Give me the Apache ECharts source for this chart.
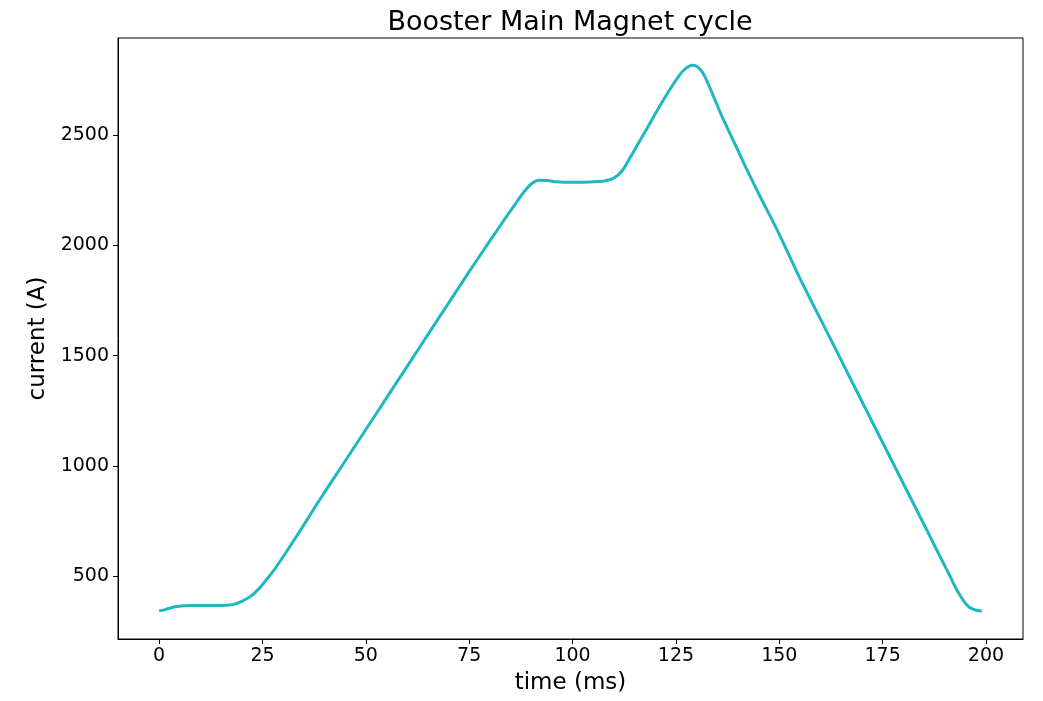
<!DOCTYPE html>
<html>
<head>
<meta charset="utf-8">
<title>Booster Main Magnet cycle</title>
<script src="https://cdn.jsdelivr.net/npm/echarts@6/dist/echarts.min.js"></script>
<style>
  html, body { margin: 0; padding: 0; background: #fff; }
  #chart { width: 1043px; height: 701px; }
</style>
</head>
<body>
<div id="chart"></div>
<script>
// Time within the magnet cycle (ms)
const timeMs = [
  0, 1, 2, 3, 4, 5, 6, 8, 10, 12, 14, 16, 18, 20, 22, 24, 26, 28, 30, 32,
  34, 36, 38, 40, 45, 50, 55, 60, 65, 70, 75, 80, 84, 86, 88, 90, 92, 94, 96, 98,
  100, 102, 104, 106, 108, 110, 112, 114, 116, 118, 120, 122, 124, 126, 127, 128, 129, 130, 131, 132,
  134, 136, 138, 140, 142, 145, 150, 155, 160, 165, 170, 175, 180, 185, 186, 188, 189, 190, 191, 192,
  193, 194, 195, 196, 197, 198, 199
];

// Main magnet current (A) at each time
const currentA = [
  343, 346, 352, 357, 362, 364, 366, 367, 367, 367, 367, 368, 372, 386, 407, 440, 485, 533, 588, 645,
  703, 762, 822, 880, 1022, 1165, 1308, 1451, 1595, 1738, 1881, 2020, 2130, 2183, 2236, 2278, 2295, 2294, 2288, 2286,
  2286, 2286, 2287, 2289, 2293, 2305, 2338, 2400, 2465, 2530, 2596, 2660, 2720, 2775, 2796, 2810, 2816, 2812, 2795, 2765,
  2680, 2590, 2510, 2430, 2350, 2235, 2050, 1850, 1664, 1478, 1292, 1106, 920, 734, 697, 622, 585, 548, 511, 472,
  436, 404, 377, 359, 349, 344, 342
];

const xTicks = [0, 25, 50, 75, 100, 125, 150, 175, 200];
const yTicks = [500, 1000, 1500, 2000, 2500];

const chart = echarts.init(document.getElementById('chart'), null, { renderer: 'canvas' });

const FONT = 'DejaVu Sans';
const axisColor = '#000';
const plainNumber = v => String(v);

chart.setOption({
  animation: false,
  backgroundColor: '#fff',
  title: {
    text: 'Booster Main Magnet cycle',
    left: 565,
    textAlign: 'center',
    top: 4,
    textStyle: { fontFamily: FONT, fontSize: 27, fontWeight: 'normal', color: '#000' }
  },
  grid: {
    left: 118,
    right: 20,
    top: 38,
    bottom: 62,
    show: true,
    borderColor: axisColor,
    borderWidth: 1,
    backgroundColor: '#fff'
  },
  xAxis: {
    type: 'value',
    min: -9.95,
    max: 208.95,
    name: 'time (ms)',
    nameLocation: 'middle',
    nameGap: 33,
    nameTextStyle: { fontFamily: FONT, fontSize: 23, color: '#000' },
    axisLine: { show: true, onZero: false, lineStyle: { color: axisColor, width: 1 } },
    axisTick: { show: true, inside: false, length: 5, customValues: xTicks, lineStyle: { color: axisColor } },
    axisLabel: { customValues: xTicks, formatter: plainNumber, margin: 8, fontFamily: FONT, fontSize: 19, color: '#000' },
    splitLine: { show: false }
  },
  yAxis: {
    type: 'value',
    min: 215,
    max: 2940,
    name: 'current (A)',
    nameLocation: 'middle',
    nameGap: 61,
    nameRotate: 90,
    nameTextStyle: { fontFamily: FONT, fontSize: 23, color: '#000' },
    axisLine: { show: true, onZero: false, lineStyle: { color: axisColor, width: 1 } },
    axisTick: { show: true, inside: false, length: 5, customValues: yTicks, lineStyle: { color: axisColor } },
    axisLabel: { customValues: yTicks, formatter: plainNumber, margin: 9, fontFamily: FONT, fontSize: 19, color: '#000' },
    splitLine: { show: false }
  },
  series: [{
    type: 'line',
    data: timeMs.map((t, i) => [t, currentA[i]]),
    smooth: 0.3,
    showSymbol: false,
    symbol: 'none',
    lineStyle: { color: '#1fb8c1', width: 3 },
    clip: true
  }]
});
</script>
</body>
</html>
